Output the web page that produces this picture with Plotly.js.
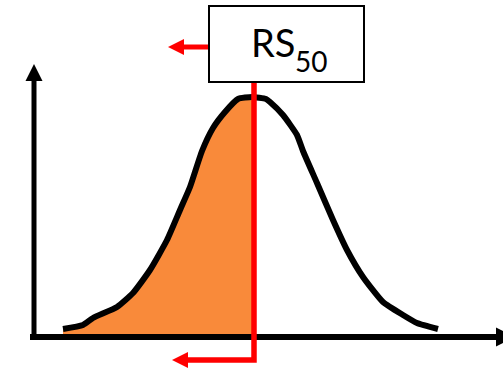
<!DOCTYPE html>
<html>
<head>
<meta charset="utf-8">
<script src="https://cdn.plot.ly/plotly-3.0.1.min.js"></script>
<style>
  html, body { margin: 0; padding: 0; background: #ffffff; }
  #chart { width: 503px; height: 373px; }
</style>
</head>
<body>
<div id="chart"></div>
<script>
// Distribution curve (size on x, frequency on y), arbitrary units
const curveX = [29, 49, 59, 83, 99, 116, 133, 146, 156, 168, 179, 191, 204, 218, 232, 236, 249, 263, 269, 283, 299, 313, 329, 349, 369, 383, 404];
const curveY = [8, 12, 19, 30, 44, 67, 97, 127, 150, 186, 209, 225, 238, 240, 238, 235, 222, 202, 186, 154, 117, 87, 60, 35, 22, 14, 8];

// Median size marker and its label
const rs50 = 220;
const labelMain = 'RS';
const labelSub = '50';

// Shaded area: the part of the curve below the median
function curveAt(x) {
  for (let i = 0; i < curveX.length - 1; i++) {
    if (x >= curveX[i] && x <= curveX[i + 1]) {
      const t = (x - curveX[i]) / (curveX[i + 1] - curveX[i]);
      return curveY[i] + t * (curveY[i + 1] - curveY[i]);
    }
  }
  return 0;
}
const fillX = [], fillY = [];
curveX.forEach((x, i) => { if (x < rs50) { fillX.push(x); fillY.push(curveY[i]); } });
fillX.push(rs50); fillY.push(curveAt(rs50));

const ORANGE = '#F98A3A';
const RED = '#FF0000';
const BLACK = '#000000';

// One axis unit is one pixel on both axes, so head lengths can be given in units
function arrowHead(x, y, symbol, size, color) {
  return { x: [x], y: [y], type: 'scatter', mode: 'markers', hoverinfo: 'skip',
    marker: { symbol: symbol, size: size, color: color, line: { width: 0 } } };
}
function path(xs, ys, color, width) {
  return { x: xs, y: ys, type: 'scatter', mode: 'lines', hoverinfo: 'skip',
    line: { color: color, width: width } };
}

const traces = [
  { x: fillX, y: fillY, type: 'scatter', mode: 'lines', fill: 'tozeroy',
    fillcolor: ORANGE, line: { width: 0, shape: 'spline', smoothing: 0.5 }, hoverinfo: 'skip' },
  { x: curveX, y: curveY, type: 'scatter', mode: 'lines',
    line: { color: BLACK, width: 6, shape: 'spline', smoothing: 0.5 }, hoverinfo: 'skip' },

  // axes
  path([0, 0], [-3, 258], BLACK, 5),
  arrowHead(0, 273, 'arrow-up', 17, BLACK),
  path([-4, 463], [0, 0], BLACK, 6),
  arrowHead(481, 0, 'arrow-right', 19, BLACK),

  // median line, turning toward smaller sizes at the bottom
  path([rs50, rs50, 151], [254, -23, -23], RED, 5.5),
  arrowHead(138, -23, 'arrow-left', 16, RED),

  // arrow beside the label, also toward smaller sizes
  path([177, 148], [290, 290], RED, 5),
  arrowHead(134, 290, 'arrow-left', 16, RED)
];

const FONT = 'Lato, "Noto Sans", sans-serif';

const layout = {
  width: 503, height: 373,
  margin: { l: 0, r: 0, t: 0, b: 0 },
  paper_bgcolor: '#ffffff', plot_bgcolor: '#ffffff',
  showlegend: false,
  xaxis: { range: [-34, 469], visible: false, fixedrange: true },
  yaxis: { range: [-36, 337], visible: false, fixedrange: true },
  shapes: [
    { type: 'rect', xref: 'x', yref: 'y', x0: 175, x1: 330, y0: 255, y1: 331,
      line: { color: BLACK, width: 2 }, fillcolor: '#ffffff', layer: 'above' }
  ],
  annotations: [
    { x: 262, y: 271, xref: 'x', yref: 'y', xanchor: 'right', yanchor: 'bottom',
      text: labelMain, showarrow: false, borderpad: 0,
      font: { family: FONT, size: 38, color: BLACK } },
    { x: 260, y: 258, xref: 'x', yref: 'y', xanchor: 'left', yanchor: 'bottom',
      text: labelSub, showarrow: false, borderpad: 0,
      font: { family: FONT, size: 28, color: BLACK } }
  ]
};

Plotly.newPlot('chart', traces, layout, { staticPlot: true, displayModeBar: false });
</script>
</body>
</html>
